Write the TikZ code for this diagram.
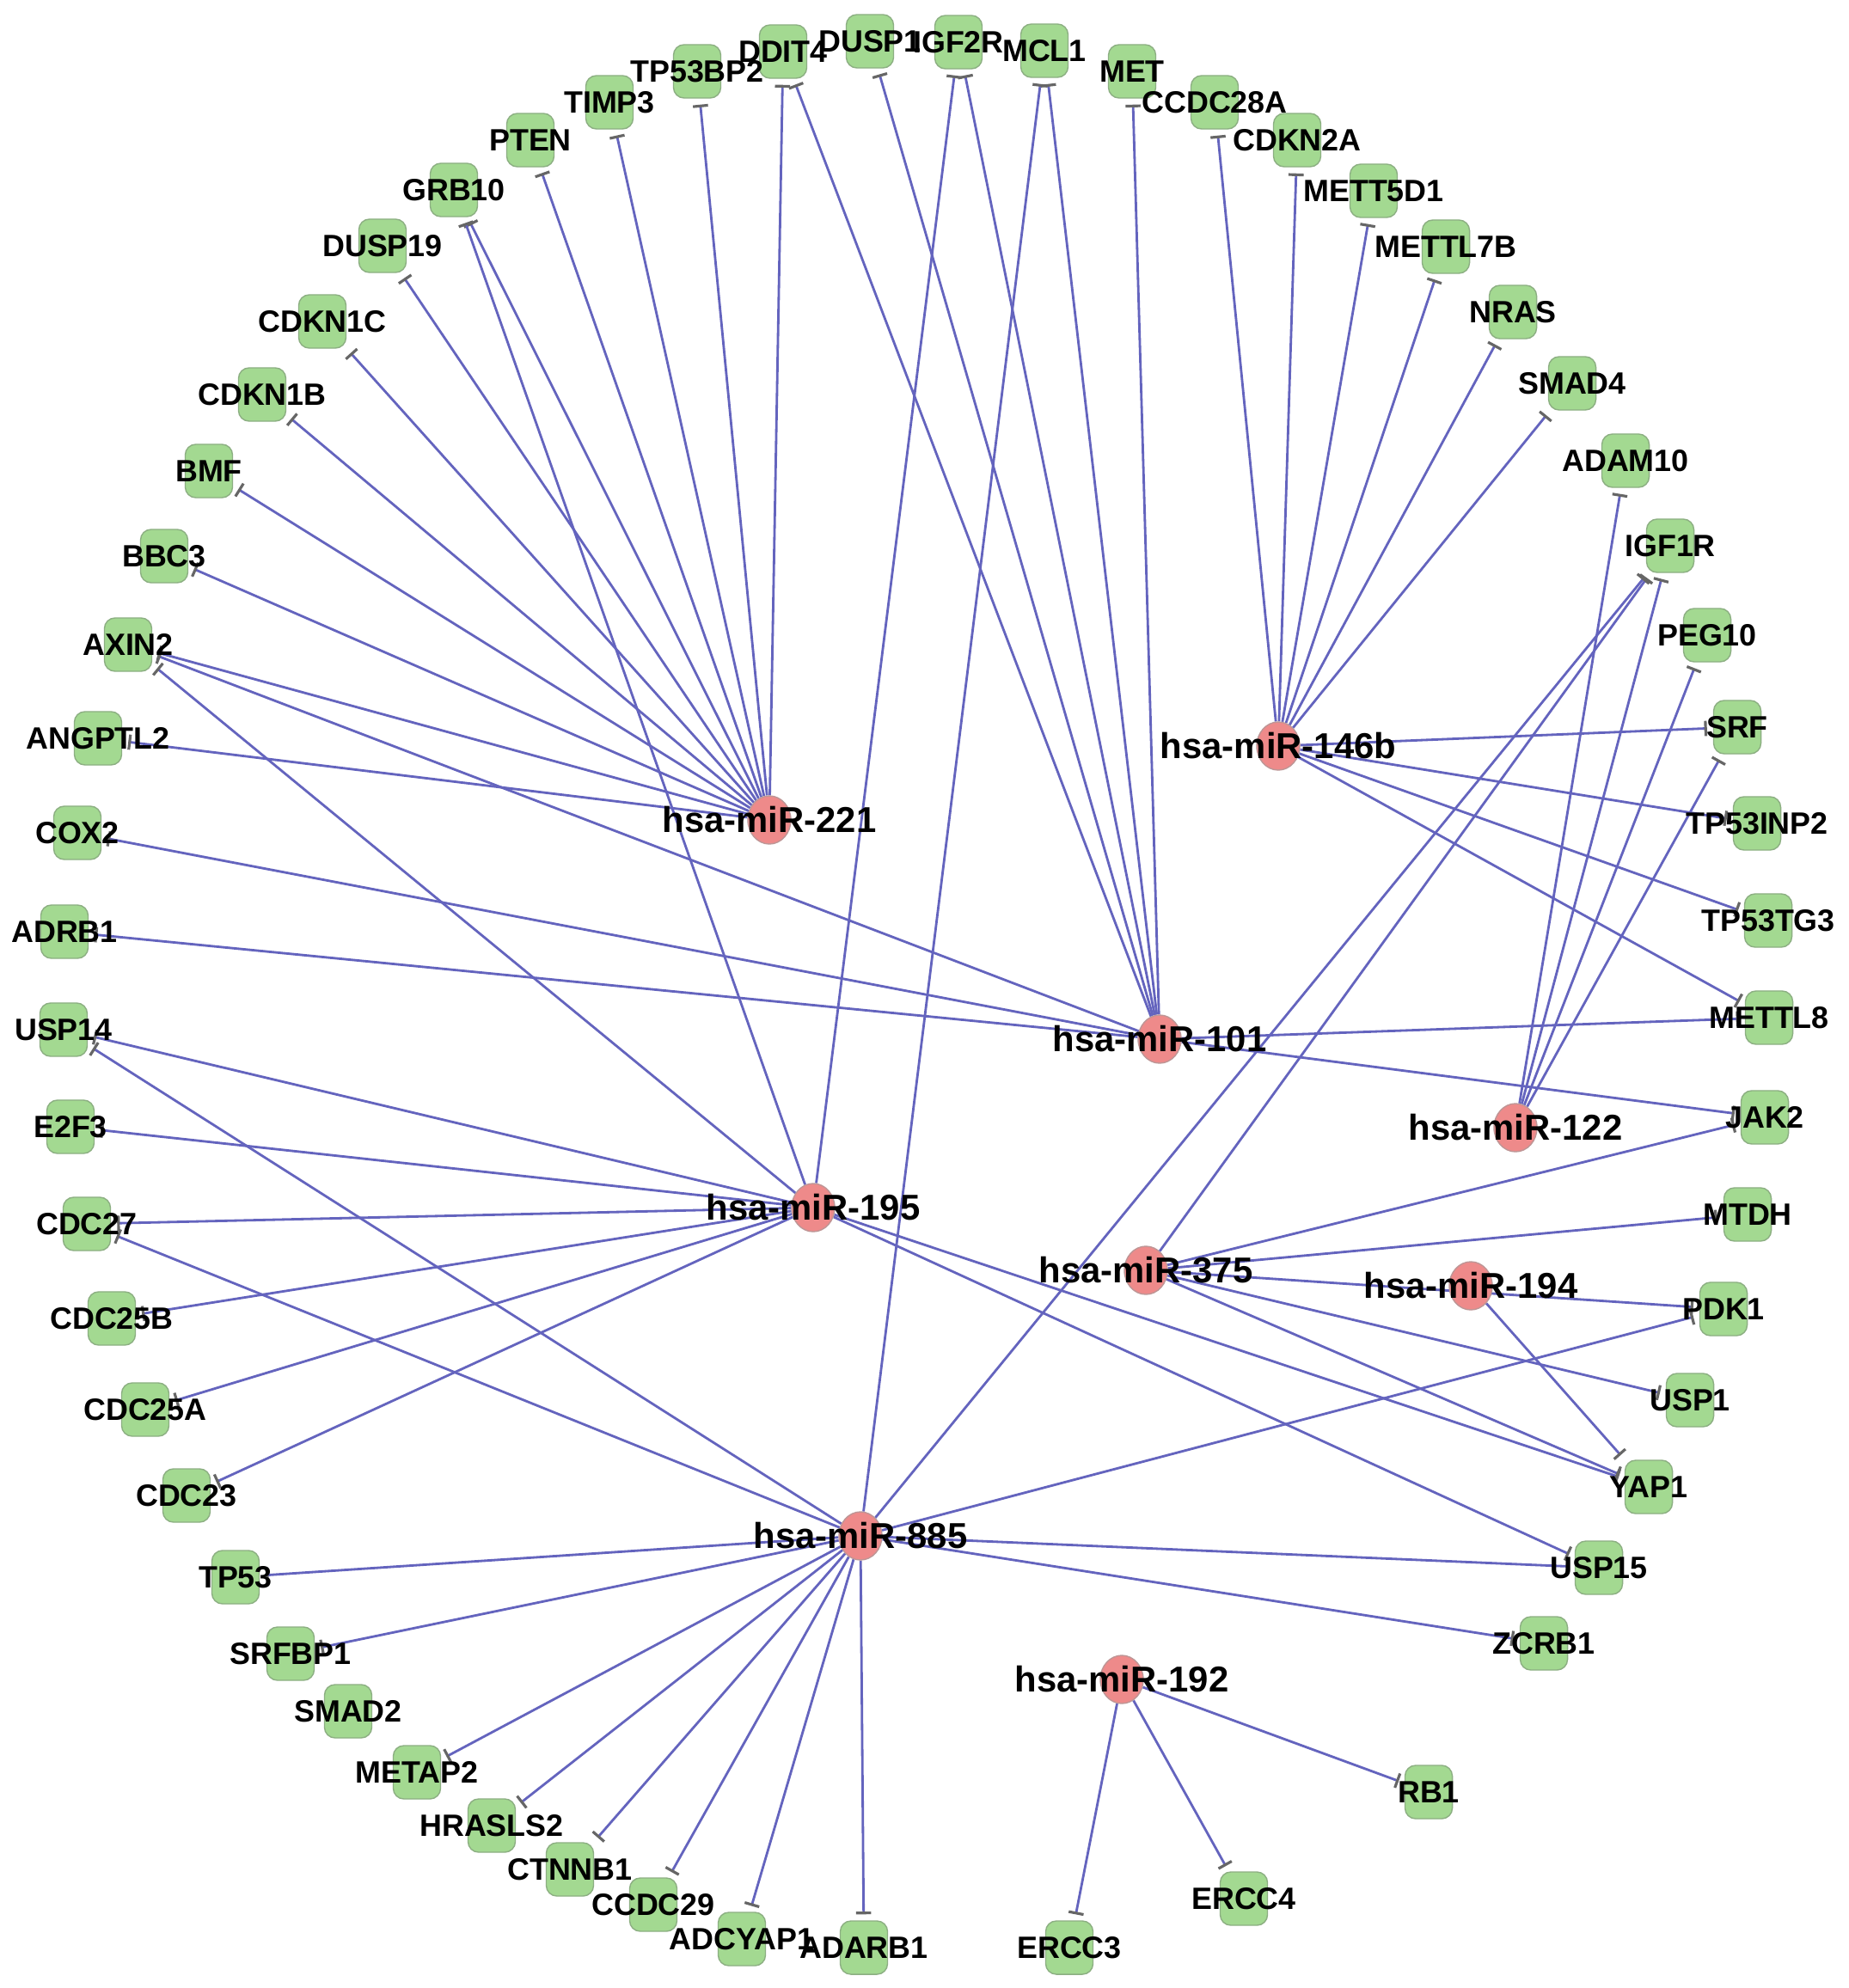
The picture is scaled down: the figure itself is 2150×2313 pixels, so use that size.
\documentclass[tikz,border=0pt]{standalone}
\usepackage{fontspec}
\setmainfont{Liberation Sans}
\usetikzlibrary{arrows.meta,shapes.geometric}
\pgfdeclarelayer{bg}
\pgfsetlayers{bg,main}
\definecolor{edgec}{RGB}{100,100,190}
\definecolor{genefill}{RGB}{163,217,145}
\definecolor{genedraw}{RGB}{140,175,130}
\definecolor{mirfill}{RGB}{238,138,138}
\definecolor{mirdraw}{RGB}{190,150,150}
\begin{document}
\begin{tikzpicture}[x=0.01cm,y=-0.01cm,
  gene/.style={rectangle, rounded corners=3.5pt, minimum width=0.55cm, minimum height=0.62cm, fill=genefill, draw=genedraw, line width=0.4pt, inner sep=0pt},
  genelab/.style={font=\fontsize{10.2pt}{12pt}\selectfont\bfseries, inner sep=0pt, text=black},
  mir/.style={ellipse, minimum width=0.5cm, minimum height=0.56cm, fill=mirfill, draw=mirdraw, line width=0.4pt, inner sep=0pt},
  mirlab/.style={font=\fontsize{11.9pt}{14pt}\selectfont\bfseries, inner sep=0pt, text=black},
  mirlink/.style={draw=edgec, line width=0.8pt, -{Bar[width=5pt,line width=0.9pt,color=black!60]}, shorten >=2pt}]
\begin{pgfonlayer}{bg}
\fill[white] (0,0) rectangle (2150,2313);
\end{pgfonlayer}
\useasboundingbox (0,0) rectangle (2150,2313);
% gene nodes
\foreach \n/\x/\y in {DDIT4/911/60, DUSP1/1012/48, IGF2R/1115/49, MCL1/1215/59, MET/1317/83,
  CCDC28A/1413/119, CDKN2A/1509/163, METT5D1/1598/222, METTL7B/1682/287, NRAS/1760/363,
  SMAD4/1829/446, ADAM10/1891/536, IGF1R/1943/635, PEG10/1986/739, SRF/2021/846,
  TP53INP2/2044/958, TP53TG3/2057/1071, METTL8/2058/1184, JAK2/2053/1300, MTDH/2033/1413,
  PDK1/2005/1523, USP1/1966/1629, YAP1/1918/1730, USP15/1860/1824, ZCRB1/1796/1912,
  RB1/1662/2085, ERCC4/1447/2209, ERCC3/1244/2266, ADARB1/1005/2266, ADCYAP1/863/2256,
  CCDC29/760/2216, CTNNB1/663/2175, HRASLS2/572/2124, METAP2/485/2062, SMAD2/405/1991,
  SRFBP1/338/1924, TP53/274/1835, CDC23/217/1740, CDC25A/169/1640, CDC25B/130/1534,
  CDC27/101/1424, E2F3/82/1311, USP14/74/1198, ADRB1/75/1084, COX2/90/969,
  ANGPTL2/114/859, AXIN2/149/750, BBC3/191/647, BMF/243/548, CDKN1B/305/459,
  CDKN1C/375/374, DUSP19/445/286, GRB10/528/221, PTEN/617/163, TIMP3/709/119, TP53BP2/811/83}
  {\node[gene] (\n) at (\x,\y) {};}
% miRNA nodes
\foreach \n/\x/\y in {M221/895/954, M146b/1487/868, M101/1349/1209, M122/1763/1312, M195/946/1405,
  M375/1333/1478, M194/1711/1496, M885/1001/1787, M192/1305/1954}
  {\node[mir] (\n) at (\x,\y) {};}
% gene labels
\foreach \n/\x/\y in {DDIT4/911/60, DUSP1/1012/48, IGF2R/1115/49, MCL1/1215/59, MET/1317/83,
  CCDC28A/1413/119, CDKN2A/1509/163, METT5D1/1598/222, METTL7B/1682/287, NRAS/1760/363,
  SMAD4/1829/446, ADAM10/1891/536, IGF1R/1943/635, PEG10/1986/739, SRF/2021/846,
  TP53INP2/2044/958, TP53TG3/2057/1071, METTL8/2058/1184, JAK2/2053/1300, MTDH/2033/1413,
  PDK1/2005/1523, USP1/1966/1629, YAP1/1918/1730, USP15/1860/1824, ZCRB1/1796/1912,
  RB1/1662/2085, ERCC4/1447/2209, ERCC3/1244/2266, ADARB1/1005/2266, ADCYAP1/863/2256,
  CCDC29/760/2216, CTNNB1/663/2175, HRASLS2/572/2124, METAP2/485/2062, SMAD2/405/1991,
  SRFBP1/338/1924, TP53/274/1835, CDC23/217/1740, CDC25A/169/1640, CDC25B/130/1534,
  CDC27/101/1424, E2F3/82/1311, USP14/74/1198, ADRB1/75/1084, COX2/90/969,
  ANGPTL2/114/859, AXIN2/149/750, BBC3/191/647, BMF/243/548, CDKN1B/305/459,
  CDKN1C/375/374, DUSP19/445/286, GRB10/528/221, PTEN/617/163, TIMP3/709/119, TP53BP2/811/83}
  {\node[genelab] (\n-l) at (\x,\y) {\n};}
% miRNA labels
\foreach \n/\t in {M221/221, M146b/146b, M101/101, M122/122, M195/195, M375/375, M194/194, M885/885, M192/192}
  {\node[mirlab] (\n-l) at (\n) {hsa-miR-\t};}
% edges
\begin{pgfonlayer}{bg}
\foreach \t in {DDIT4,TP53BP2,TIMP3,PTEN,GRB10,DUSP19,CDKN1C,CDKN1B,BMF,BBC3,AXIN2,ANGPTL2}
  {\draw[mirlink] (M221) -- (\t);}
\foreach \t in {CCDC28A,CDKN2A,METT5D1,METTL7B,NRAS,SMAD4,SRF,TP53INP2,TP53TG3,METTL8}
  {\draw[mirlink] (M146b) -- (\t);}
\foreach \t in {DDIT4,DUSP1,IGF2R,MCL1,MET,AXIN2,COX2,ADRB1,METTL8,JAK2}
  {\draw[mirlink] (M101) -- (\t);}
\foreach \t in {ADAM10,IGF1R,PEG10,SRF}
  {\draw[mirlink] (M122) -- (\t);}
\foreach \t in {USP14,E2F3,CDC27,CDC25B,CDC25A,CDC23,AXIN2,GRB10,IGF2R,YAP1,USP15}
  {\draw[mirlink] (M195) -- (\t);}
\foreach \t in {IGF1R,JAK2,MTDH,PDK1,USP1,YAP1}
  {\draw[mirlink] (M375) -- (\t);}
\foreach \t in {YAP1}
  {\draw[mirlink] (M194) -- (\t);}
\foreach \t in {MCL1,IGF1R,PDK1,USP15,ZCRB1,ADARB1,ADCYAP1,CCDC29,CTNNB1,HRASLS2,METAP2,SRFBP1,TP53,CDC27,USP14}
  {\draw[mirlink] (M885) -- (\t);}
\foreach \t in {RB1,ERCC4,ERCC3}
  {\draw[mirlink] (M192) -- (\t);}
\end{pgfonlayer}
\end{tikzpicture}
\end{document}
